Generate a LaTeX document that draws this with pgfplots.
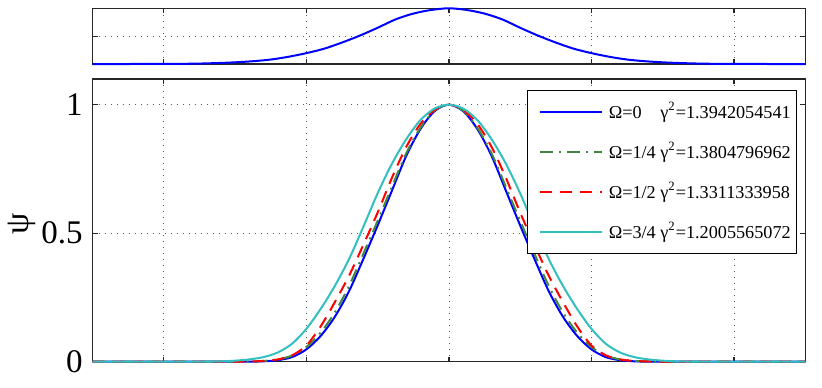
\documentclass[border=0pt]{standalone}
\usepackage{fontspec}
\setmainfont{Liberation Serif}
\usepackage{pgfplots}
\pgfplotsset{compat=1.18}

\definecolor{mblue}{RGB}{0,0,255}
\definecolor{mgreen}{RGB}{64,135,64}
\definecolor{mred}{RGB}{255,0,0}
\definecolor{mcyan}{RGB}{51,191,191}

\pgfplotsset{
  mlab/.style={
    set layers, axis on top=false,
    scale only axis, width=356.4pt,
    xmin=-5, xmax=5, xtick={-4,-2,0,2,4}, xticklabels={},
    tick align=inside, tick pos=both, major tick length=2.5pt,
    grid=major,
    grid style={black!65, line width=0.4pt, dash pattern=on 0.5pt off 2.5pt},
    axis line style={black!85, line width=0.6pt},
    every tick/.style={black!85, line width=0.6pt},
    /pgf/number format/assume math mode=true,
    tick label style={font=\fontsize{16.5}{18}\selectfont},
    clip=false,
  },
  crv/.style={line width=1pt, smooth},
}

\begin{document}
\begin{tikzpicture}
% main panel
\begin{axis}[mlab, name=main, at={(0,0)}, anchor=south west,
  height=141.35pt, ymin=0, ymax=1.1, ytick={0,0.5,1},
  yticklabel style={inner sep=0pt, xshift=-4.75pt},
  ylabel={ψ},
  every axis y label/.style={at={(rel axis cs:0,0.5)}, xshift=-35.4pt, yshift=-1.5pt,
    rotate=90, anchor=center, font=\fontsize{17}{20}\selectfont},
  legend cell align=left,
  legend image code/.code={\path (0pt,0pt); \draw[#1] (3.6pt,0pt) -- (34.6pt,0pt);},
  legend style={at={(rel axis cs:1,1)}, xshift=-4pt, yshift=-5.5pt, anchor=north east,
    draw=black, line width=0.6pt, fill=white, inner xsep=2pt, inner ysep=4.7pt,
    font=\fontsize{9.1}{11}\selectfont, row sep=8pt, column sep=2pt,
    nodes={inner sep=1pt, text height=8pt, text depth=2pt}},
]
\addplot[crv, mblue] coordinates {
(-5,0)(-4,0)(-3,0)(-2.8,0.0003)(-2.6,0.0015)(-2.4,0.006)(-2.2,0.018)(-2,0.048)
(-1.8,0.1)(-1.6,0.175)(-1.4,0.275)(-1.2,0.4)(-1,0.53)(-0.8,0.665)(-0.6,0.8)
(-0.4,0.905)(-0.2,0.975)(0,1)(0.2,0.975)(0.4,0.905)(0.6,0.8)(0.8,0.665)(1,0.53)
(1.2,0.4)(1.4,0.275)(1.6,0.175)(1.8,0.1)(2,0.048)(2.2,0.018)(2.4,0.006)
(2.6,0.0015)(2.8,0.0003)(3,0)(4,0)(5,0)};
\addlegendentry{Ω=0\phantom{/4} γ\textsuperscript{2}=1.3942054541}
\addplot[crv, mgreen, dash pattern=on 6.5pt off 3pt on 1pt off 3pt] coordinates {
(-5,0)(-4,0)(-3,0)(-2.8,0.001)(-2.6,0.003)(-2.4,0.009)(-2.2,0.024)(-2,0.057)
(-1.8,0.113)(-1.6,0.192)(-1.4,0.295)(-1.2,0.42)(-1,0.548)(-0.8,0.68)(-0.6,0.81)
(-0.4,0.91)(-0.2,0.977)(0,1)(0.2,0.977)(0.4,0.91)(0.6,0.81)(0.8,0.68)(1,0.548)
(1.2,0.42)(1.4,0.295)(1.6,0.192)(1.8,0.113)(2,0.057)(2.2,0.024)(2.4,0.009)
(2.6,0.003)(2.8,0.001)(3,0)(4,0)(5,0)};
\addlegendentry{Ω=1/4 γ\textsuperscript{2}=1.3804796962}
\addplot[crv, mred, dash pattern=on 6pt off 4pt] coordinates {
(-5,0)(-4,0)(-3,0)(-2.8,0.001)(-2.6,0.003)(-2.4,0.009)(-2.2,0.025)(-2,0.063)
(-1.8,0.137)(-1.6,0.232)(-1.4,0.335)(-1.2,0.455)(-1,0.58)(-0.8,0.715)(-0.6,0.835)
(-0.4,0.925)(-0.2,0.98)(0,1)(0.2,0.98)(0.4,0.925)(0.6,0.835)(0.8,0.715)(1,0.58)
(1.2,0.455)(1.4,0.335)(1.6,0.232)(1.8,0.137)(2,0.063)(2.2,0.025)(2.4,0.009)
(2.6,0.003)(2.8,0.001)(3,0)(4,0)(5,0)};
\addlegendentry{Ω=1/2 γ\textsuperscript{2}=1.3311333958}
\addplot[crv, mcyan] coordinates {
(-5,0)(-4,0)(-3.6,0)(-3.4,0.0005)(-3.2,0.0015)(-3,0.004)(-2.8,0.009)(-2.6,0.018)
(-2.4,0.036)(-2.2,0.07)(-2,0.128)(-1.8,0.205)(-1.6,0.295)(-1.4,0.4)(-1.2,0.525)
(-1,0.655)(-0.8,0.77)(-0.6,0.865)(-0.4,0.94)(-0.2,0.985)(0,1)(0.2,0.985)(0.4,0.94)
(0.6,0.865)(0.8,0.77)(1,0.655)(1.2,0.525)(1.4,0.4)(1.6,0.295)(1.8,0.205)(2,0.128)
(2.2,0.07)(2.4,0.036)(2.6,0.018)(2.8,0.009)(3,0.004)(3.2,0.0015)(3.4,0.0005)
(3.6,0)(4,0)(5,0)};
\addlegendentry{Ω=3/4 γ\textsuperscript{2}=1.2005565072}
\end{axis}
% top panel
\begin{axis}[mlab, at={(0,148.85pt)}, anchor=south west,
  height=27.85pt, ymin=0, ymax=1, ytick={0,0.5,1}, yticklabels={}]
\addplot[crv, mblue] coordinates {
(-5,0)(-4.5,0)(-4,0.001)(-3.75,0.003)(-3.5,0.008)(-3.25,0.017)(-3,0.03)(-2.75,0.05)
(-2.5,0.08)(-2.25,0.13)(-2,0.195)(-1.75,0.275)(-1.5,0.385)(-1.25,0.51)(-1,0.65)
(-0.75,0.8)(-0.5,0.905)(-0.25,0.97)(0,1)(0.25,0.97)(0.5,0.905)(0.75,0.8)(1,0.65)
(1.25,0.51)(1.5,0.385)(1.75,0.275)(2,0.195)(2.25,0.13)(2.5,0.08)(2.75,0.05)
(3,0.03)(3.25,0.017)(3.5,0.008)(3.75,0.003)(4,0.001)(4.5,0)(5,0)};
\end{axis}
\pgfresetboundingbox
\path[use as bounding box] (-46.25pt,-12.65pt) rectangle (364.75pt,180.85pt);
\end{tikzpicture}
\end{document}
